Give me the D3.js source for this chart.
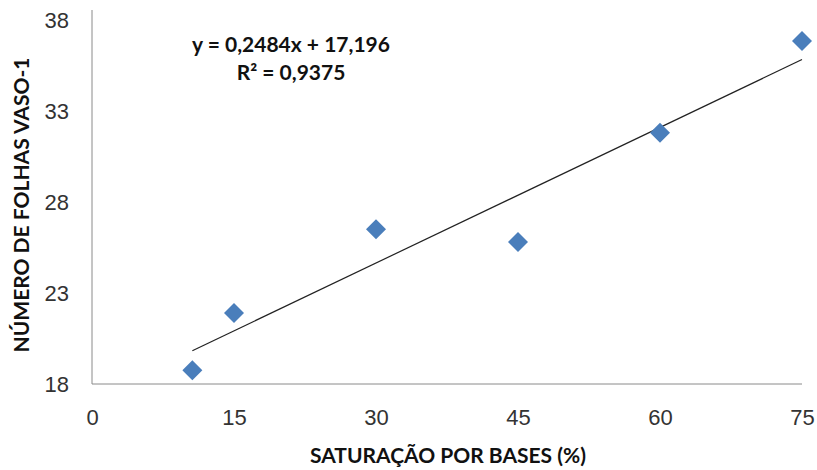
<!DOCTYPE html>
<html>
<head>
<meta charset="utf-8">
<script src="https://cdn.jsdelivr.net/npm/d3@7"></script>
<style>
  body { margin: 0; background: #fff; }
  svg { font-family: Lato, "Open Sans", sans-serif; }
</style>
</head>
<body>
<svg width="817" height="470"></svg>
<script>
// data
var saturacao = [10.6, 15, 30, 45, 60, 75];
var folhas = [18.75, 21.9, 26.5, 25.8, 31.8, 36.85];
var xTicks = [0, 15, 30, 45, 60, 75];
var yTicks = [18, 23, 28, 33, 38];
// trend line coefficients (as printed)
var slope = 0.2484;
var intercept = 17.196;
var eqLines = ['y = 0,2484x + 17,196', 'R² = 0,9375'];

var svg = d3.select('svg');

var xScale = d3.scaleLinear().domain([0, 75]).range([92, 802]);
var yScale = d3.scaleLinear().domain([18, 38]).range([384, 20]);

// axes (no tick marks, grey line)
svg.append('g')
    .attr('transform', 'translate(0,384)')
    .call(d3.axisBottom(xScale).tickValues(xTicks).tickSize(0).tickPadding(25));
svg.append('g')
    .attr('transform', 'translate(92,0)')
    .call(d3.axisLeft(yScale).tickValues(yTicks).tickSize(0).tickPadding(23));

svg.selectAll('.domain').remove();
svg.append('line')
    .attr('x1', 92).attr('x2', 92).attr('y1', 10).attr('y2', 384)
    .attr('stroke', '#8a8a8a').attr('stroke-width', 1);
svg.append('line')
    .attr('x1', 92).attr('x2', 802).attr('y1', 384).attr('y2', 384)
    .attr('stroke', '#8a8a8a').attr('stroke-width', 1);

svg.selectAll('.tick text')
    .style('font-size', '22px')
    .style('fill', '#333');

// trend line
var xMin = d3.min(saturacao), xMax = d3.max(saturacao);
svg.append('line')
    .attr('x1', xScale(xMin)).attr('y1', yScale(slope * xMin + intercept))
    .attr('x2', xScale(xMax)).attr('y2', yScale(slope * xMax + intercept))
    .attr('stroke', '#222').attr('stroke-width', 1.2);

// diamond points
var diamond = d3.symbol().type(d3.symbolSquare).size(200);
svg.selectAll('.dot')
    .data(saturacao)
    .enter()
    .append('path')
    .attr('class', 'dot')
    .attr('d', diamond)
    .attr('fill', '#4a7ebb')
    .attr('transform', function(d, i) {
        return 'translate(' + xScale(d) + ',' + yScale(folhas[i]) + ') rotate(45)';
    });

// equation
svg.selectAll('.eq')
    .data(eqLines)
    .enter()
    .append('text')
    .attr('class', 'eq')
    .attr('x', 291)
    .attr('y', function(d, i) { return 52 + i * 28; })
    .attr('text-anchor', 'middle')
    .style('font-size', '21px')
    .style('font-weight', 'bold')
    .style('fill', '#111')
    .text(function(d) { return d; });

// axis titles
svg.append('text')
    .attr('x', 448).attr('y', 463)
    .attr('text-anchor', 'middle')
    .style('font-size', '21px').style('font-weight', 'bold').style('fill', '#111')
    .text('SATURAÇÃO POR BASES (%)');

svg.append('text')
    .attr('transform', 'translate(29,205) rotate(-90)')
    .attr('text-anchor', 'middle')
    .style('font-size', '21px').style('font-weight', 'bold').style('fill', '#111')
    .text('NÚMERO DE FOLHAS VASO-1');
</script>
</body>
</html>
